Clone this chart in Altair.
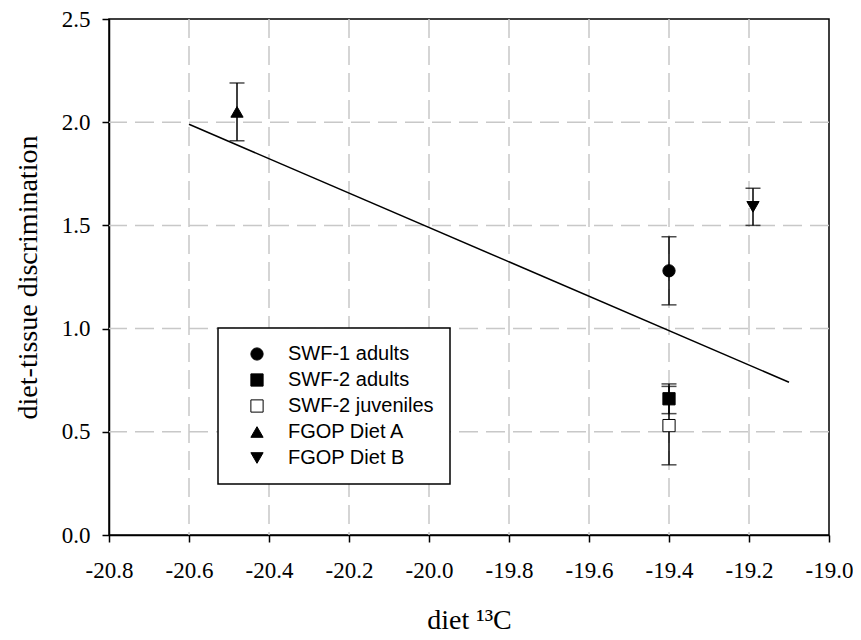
import altair as alt
import pandas as pd

# ---- data ----
groups = ["SWF-1 adults", "SWF-2 adults", "SWF-2 juveniles", "FGOP Diet A", "FGOP Diet B"]
diet_c13 = [-19.40, -19.40, -19.40, -20.48, -19.19]
discrimination = [1.28, 0.66, 0.53, 2.05, 1.59]
error = [0.165, 0.072, 0.19, 0.14, 0.09]

shapes = ["circle", "square", "square", "triangle-up", "triangle-down"]
fills = ["black", "black", "white", "black", "black"]
strokes = ["black", "black", "black", "black", "black"]

fit_x = [-20.6, -19.1]
fit_y = [1.99, 0.74]

x_ticks = [-20.8, -20.6, -20.4, -20.2, -20.0, -19.8, -19.6, -19.4, -19.2, -19.0]
y_ticks = [0.0, 0.5, 1.0, 1.5, 2.0, 2.5]

df = pd.DataFrame({"group": groups, "x": diet_c13, "y": discrimination, "err": error})
df["lo"] = df["y"] - df["err"]
df["hi"] = df["y"] + df["err"]
fit = pd.DataFrame({"x": fit_x, "y": fit_y})
# inner grid lines (the outer ones coincide with the frame)
xgrid = pd.DataFrame({"v": x_ticks[1:-1]})
ygrid = pd.DataFrame({"v": y_ticks[1:-1]})

serif = "Liberation Serif"
grid_color = "#c8c8c8"
grid_dash = [19, 8]

xscale = alt.Scale(domain=[-20.8, -19.0], nice=False, zero=False)
yscale = alt.Scale(domain=[0, 2.5], nice=False, zero=False)

xaxis = alt.Axis(
    values=x_ticks,
    labelExpr="replace(format(datum.value, '.1f'), '\u2212', '-')",
    title="diet \u00b9\u00b3C",
    labelFlush=False,
    labelFont=serif,
    labelFontSize=23,
    labelPadding=17,
    titleFont=serif,
    titleFontSize=28,
    titlePadding=24,
    grid=False,
)
yaxis = alt.Axis(
    values=y_ticks,
    format=".1f",
    title="diet-tissue discrimination",
    labelFlush=False,
    labelFont=serif,
    labelFontSize=23,
    labelPadding=12,
    titleFont=serif,
    titleFontSize=28,
    titlePadding=19,
    grid=False,
)

vgrid = alt.Chart(xgrid).mark_rule(color=grid_color, strokeWidth=1.5, strokeDash=grid_dash).encode(
    x=alt.X("v:Q", scale=xscale, axis=xaxis)
)
hgrid = alt.Chart(ygrid).mark_rule(color=grid_color, strokeWidth=1.5, strokeDash=grid_dash).encode(
    y=alt.Y("v:Q", scale=yscale, axis=yaxis)
)

line = alt.Chart(fit).mark_line(color="black", strokeWidth=1.5).encode(
    x=alt.X("x:Q", scale=xscale, axis=xaxis),
    y=alt.Y("y:Q", scale=yscale, axis=yaxis),
)

bars = alt.Chart(df).mark_rule(color="black", strokeWidth=1.5).encode(
    x="x:Q", y="lo:Q", y2="hi:Q"
)
caps_hi = alt.Chart(df).mark_tick(color="black", orient="horizontal", size=15, thickness=1.5).encode(
    x="x:Q", y="hi:Q"
)
caps_lo = alt.Chart(df).mark_tick(color="black", orient="horizontal", size=15, thickness=1.5).encode(
    x="x:Q", y="lo:Q"
)

legend_spec = alt.Legend(title=None, symbolStrokeWidth=1)

points = alt.Chart(df).mark_point(filled=False, strokeWidth=1, opacity=1).encode(
    x="x:Q",
    y="y:Q",
    shape=alt.Shape("group:N", scale=alt.Scale(domain=groups, range=shapes), legend=legend_spec),
    fill=alt.Fill("group:N", scale=alt.Scale(domain=groups, range=fills), legend=legend_spec),
    stroke=alt.Stroke("group:N", scale=alt.Scale(domain=groups, range=strokes), legend=legend_spec),
    size=alt.value(150),
)

chart = (
    alt.layer(vgrid, hgrid, line, bars, caps_hi, caps_lo, points)
    .properties(
        width=720,
        height=516,
        autosize=alt.AutoSizeParams(type="none"),
        padding={"left": 101, "top": 11, "right": 24, "bottom": 99},
        background="white",
    )
    .configure_view(stroke="black", strokeWidth=1.5)
    .configure_axis(
        domainColor="black",
        domainWidth=1.5,
        tickColor="black",
        tickWidth=1.5,
        tickSize=7,
        labelColor="black",
        titleFontWeight="normal",
        titleColor="black",
    )
    .configure_legend(
        orient="none",
        legendX=109,
        legendY=309,
        padding=16,
        strokeColor="black",
        fillColor="white",
        strokeWidth=1.5,
        symbolSize=150,
        symbolStrokeWidth=1,
        symbolOffset=13,
        labelOffset=21,
        rowPadding=6,
        labelFont="Liberation Sans",
        labelFontSize=20,
        labelColor="black",
        labelLimit=400,
    )
)

chart.save("out.html", embed_options={"renderer": "svg", "actions": False})
